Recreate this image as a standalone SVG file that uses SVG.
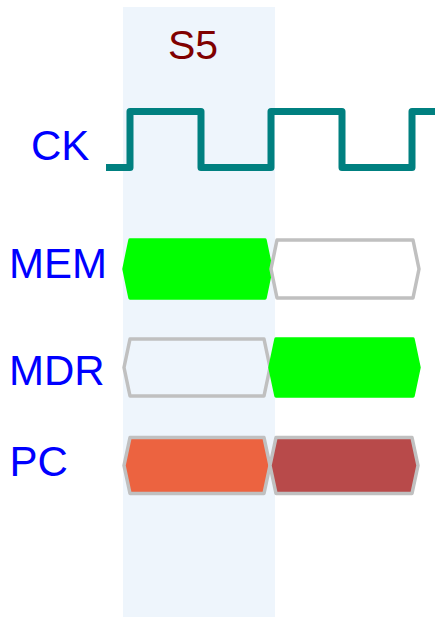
<svg xmlns="http://www.w3.org/2000/svg" width="435" height="617" viewBox="0 0 435 617">
<style>
.lbl{font-family:"Liberation Sans",Arial,sans-serif;font-size:42px;fill:#0000ff}
.hdr{font-family:"Liberation Sans",Arial,sans-serif;font-size:41px;fill:#800000}
.cell{stroke-width:3.5;stroke-linejoin:round}
.grey{stroke:#c0c0c0}
.green{fill:#00ff00;stroke:#00ff00}
.empty{fill:none}
.white{fill:#ffffff}
.orange{fill:#ec6340}
.dred{fill:#b84a4a}
</style>
<rect id="stage-bg" x="123" y="7" width="152" height="610" fill="#eef5fc"/>
<g id="header"><text class="hdr" x="168" y="59">S5</text></g>
<g id="labels">
<text id="lbl-ck" class="lbl" x="31" y="160">CK</text>
<text id="lbl-mem" class="lbl" x="9" y="278">MEM</text>
<text id="lbl-mdr" class="lbl" x="9" y="385">MDR</text>
<text id="lbl-pc" class="lbl" x="9.5" y="476">PC</text>
</g>
<g id="connectors">
<path id="clock" d="M106,167.5 H130 V111.5 H201 V167.5 H271 V111.5 H342 V167.5 H412 V111.5 H435" fill="none" stroke="#008080" stroke-width="7" stroke-linejoin="round"/>
</g>
<g id="mem">
<polygon class="cell green" points="124,269 130,240 265,240 271,269 265,298 130,298"/>
<polygon class="cell grey white" points="271,269 277,240 413,240 419,269 413,298 277,298"/>
</g>
<g id="mdr">
<polygon class="cell grey empty" points="124,367.5 130,339 264,339 270,367.5 264,396 130,396"/>
<polygon class="cell green" points="270,367.5 276,339 413,339 419,367.5 413,396 276,396"/>
</g>
<g id="pc">
<polygon class="cell grey orange" points="124,465.5 130,437.5 264,437.5 270,465.5 264,493.5 130,493.5" stroke-width="4"/>
<polygon class="cell grey dred" points="270,465.5 276,437.5 412,437.5 418,465.5 412,493.5 276,493.5" stroke-width="4"/>
</g>
</svg>
